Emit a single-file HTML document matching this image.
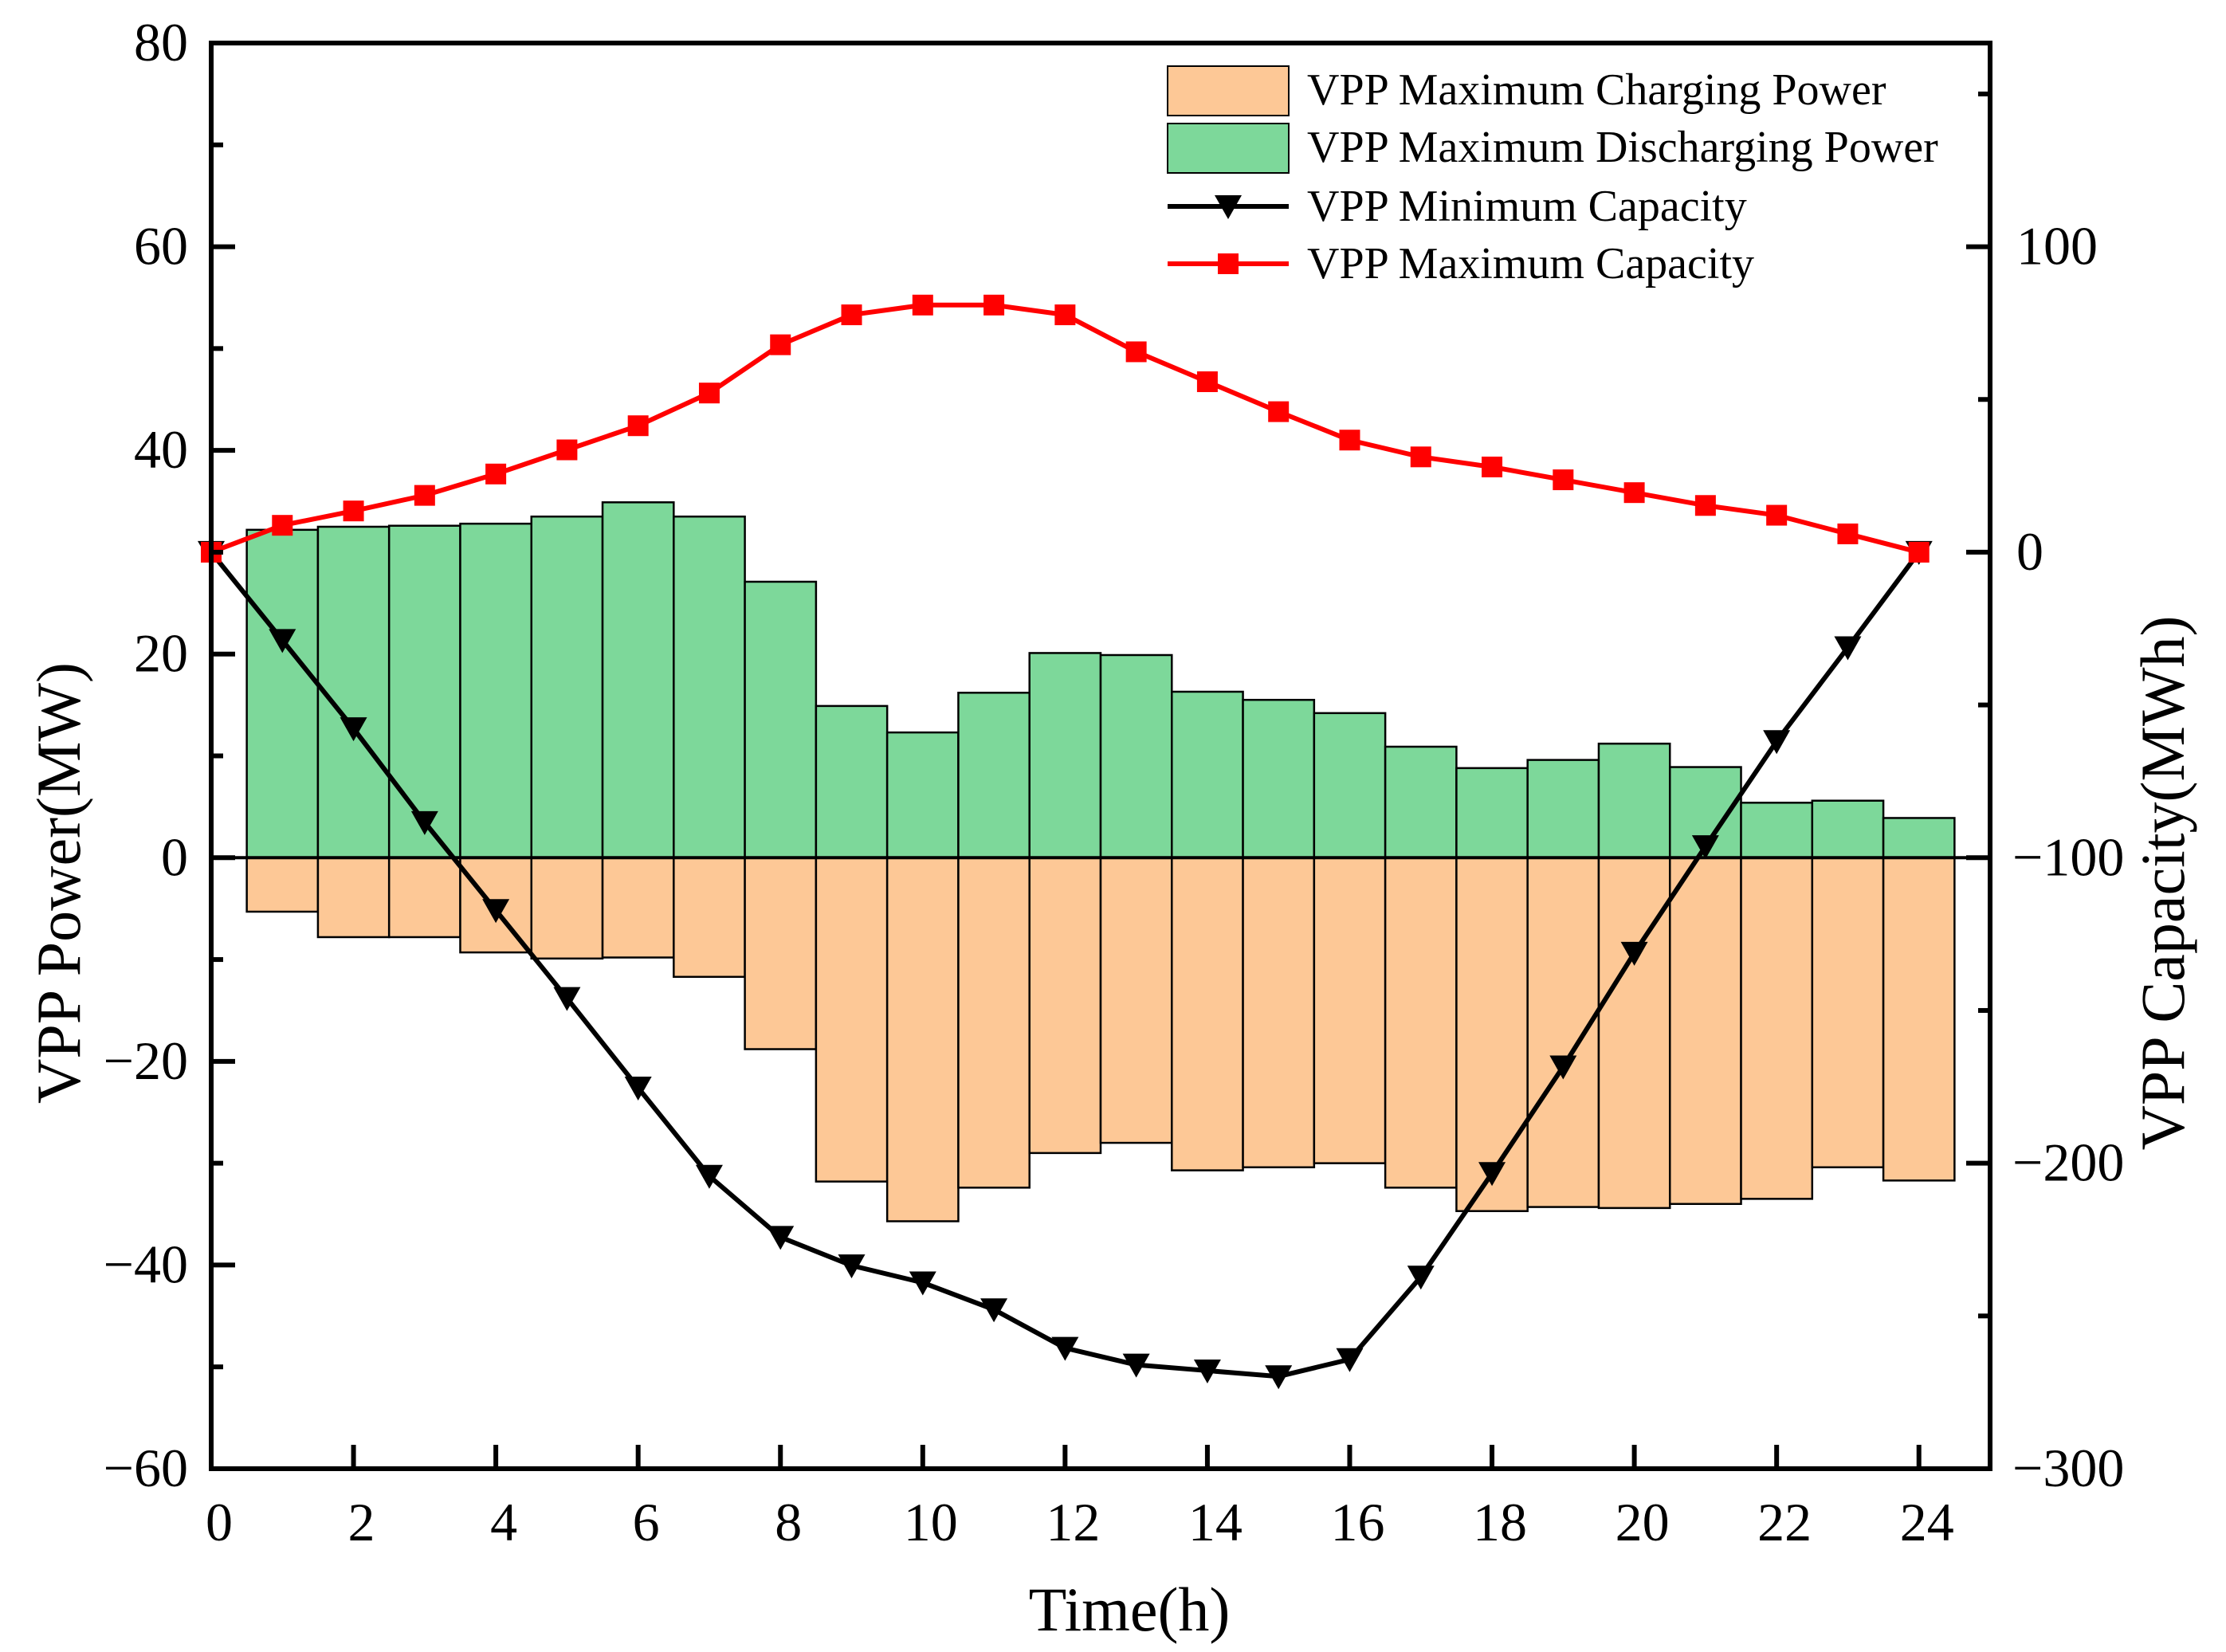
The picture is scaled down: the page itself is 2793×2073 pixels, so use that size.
<!DOCTYPE html>
<html><head><meta charset="utf-8"><style>
html,body{margin:0;padding:0;background:#fff}
svg{display:block}
text{font-family:"Liberation Serif",serif;fill:#000}
</style></head><body>
<svg id="chart" width="2793" height="2073" viewBox="0 0 2793 2073" xmlns="http://www.w3.org/2000/svg">
<g id="bars"></g>
<g id="lines"></g>
<g id="axes"></g>
<g id="legend"></g>
</svg>
<script>
const hours = [1,2,3,4,5,6,7,8,9,10,11,12,13,14,15,16,17,18,19,20,21,22,23,24];
const discharging = [32.2,32.5,32.6,32.8,33.5,34.9,33.5,27.1,14.9,12.3,16.2,20.1,19.9,16.3,15.5,14.2,10.9,8.8,9.6,11.2,8.9,5.4,5.6,3.9];
const charging = [-5.3,-7.8,-7.8,-9.3,-9.9,-9.8,-11.7,-18.8,-31.8,-35.7,-32.4,-29.0,-28.0,-30.7,-30.4,-30.0,-32.4,-34.7,-34.3,-34.4,-34.0,-33.5,-30.4,-31.7];
const capHours = [0,1,2,3,4,5,6,7,8,9,10,11,12,13,14,15,16,17,18,19,20,21,22,23,24];
const maxCap = [0,8.8,13.5,18.6,25.6,33.5,41.4,52.1,67.9,77.7,80.9,80.9,77.7,65.6,55.8,46.0,36.7,31.2,27.9,23.7,19.5,15.3,12.1,6.0,0];
const minCap = [0,-28.8,-57.7,-88.4,-117.2,-146,-175.3,-204.2,-224.2,-233.5,-239.1,-247.9,-260.5,-266,-267.9,-269.8,-264.2,-237.2,-203.3,-168.4,-131.2,-96.3,-61.9,-31.2,0];
const xTicks = [0,2,4,6,8,10,12,14,16,18,20,22,24];
const yTicks = [80,60,40,20,0,-20,-40,-60];
const y2Ticks = [100,0,-100,-200,-300];

const NS="http://www.w3.org/2000/svg";
const L=265,R=2497,T=54,B=1843;
const x=h=>L+(h/25)*(R-L);
const y=v=>T+(80-v)/140*(B-T);
const y2=c=>y(c*0.3+30);
function mk(tag,attrs,parent){const e=document.createElementNS(NS,tag);for(const k in attrs)e.setAttribute(k,attrs[k]);parent.appendChild(e);return e;}
const gB=document.getElementById('bars'),gL=document.getElementById('lines'),gA=document.getElementById('axes'),gG=document.getElementById('legend');

hours.forEach((h,i)=>{
  const x0=x(h-0.5),w=x(h+0.5)-x0;
  let r=mk('rect',{x:x0,y:y(discharging[i]),width:w,height:y(0)-y(discharging[i]),fill:'#7dd89a',stroke:'#000','stroke-width':2.5},gB);
  
  
  let c=mk('rect',{x:x0,y:y(0),width:w,height:y(charging[i])-y(0),fill:'#fdc896',stroke:'#000','stroke-width':2.5},gB);
  
  
});
let zl=mk('line',{x1:L,x2:R,y1:y(0),y2:y(0),stroke:'#000','stroke-width':4},gB);



function tri(cx,cy,p){const s=17;return mk('polygon',{points:`${cx-s},${cy-14} ${cx+s},${cy-14} ${cx},${cy+16}`,fill:'#000'},p);}
function sq(cx,cy,p){return mk('rect',{x:cx-13,y:cy-13,width:26,height:26,fill:'#f00'},p);}

let pMin=mk('polyline',{points:capHours.map((h,i)=>x(h)+','+y2(minCap[i])).join(' '),fill:'none',stroke:'#000','stroke-width':6},gL);


capHours.forEach((h,i)=>{const m=tri(x(h),y2(minCap[i]),gL);
  
  });
let pMax=mk('polyline',{points:capHours.map((h,i)=>x(h)+','+y2(maxCap[i])).join(' '),fill:'none',stroke:'#f00','stroke-width':6},gL);


capHours.forEach((h,i)=>{const m=sq(x(h),y2(maxCap[i]),gL);
  
  });

let fr=mk('rect',{x:L,y:T,width:R-L,height:B-T,fill:'none',stroke:'#000','stroke-width':6},gA);


xTicks.forEach(h=>{
  mk('line',{x1:x(h),x2:x(h),y1:B,y2:B-30,stroke:'#000','stroke-width':6},gA);
  const t=mk('text',{x:x(h)+10,y:1933,'font-size':68,'text-anchor':'middle'},gA);t.textContent=h;
  
  
});
for(let v=-60;v<=80;v+=10){const len=(v%20===0)?30:15;mk('line',{x1:L,x2:L+len,y1:y(v),y2:y(v),stroke:'#000','stroke-width':6},gA);}
yTicks.forEach(v=>{
  const t=mk('text',{x:236,y:y(v)+22,'font-size':68,'text-anchor':'end'},gA);t.textContent=v<0?'\u2212'+(-v):v;
  
  
});
for(let c=-300;c<=150;c+=50){const len=(c%100===0)?30:15;mk('line',{x1:R,x2:R-len,y1:y2(c),y2:y2(c),stroke:'#000','stroke-width':6},gA);}
y2Ticks.forEach(c=>{
  const t=mk('text',{x:c<0?2525:2530,y:y2(c)+22,'font-size':68,'text-anchor':'start'},gA);t.textContent=c<0?'\u2212'+(-c):c;
  
  
});
let xt=mk('text',{x:1417,y:2046,'font-size':78,'text-anchor':'middle'},gA);xt.textContent='Time(h)';


let yt=mk('text',{x:0,y:0,'font-size':78,'text-anchor':'middle',transform:'translate(100,1108) rotate(-90)'},gA);yt.textContent='VPP Power(MW)';


let y2t=mk('text',{x:0,y:0,'font-size':78,'text-anchor':'middle',transform:'translate(2740,1108) rotate(-90)'},gA);y2t.textContent='VPP Capacity(MWh)';



const lx1=1465,lx2=1617,tx=1640;
let e;
e=mk('rect',{x:lx1,y:83,width:152,height:62,fill:'#fdc896',stroke:'#000','stroke-width':2},gG);

e=mk('text',{x:tx,y:131,'font-size':56},gG);e.textContent='VPP Maximum Charging Power';

e=mk('rect',{x:lx1,y:155,width:152,height:62,fill:'#7dd89a',stroke:'#000','stroke-width':2},gG);

e=mk('text',{x:tx,y:203,'font-size':56},gG);e.textContent='VPP Maximum Discharging Power';

e=mk('line',{x1:lx1,x2:lx2,y1:259,y2:259,stroke:'#000','stroke-width':6},gG);

tri(1541,259,gG);
e=mk('text',{x:tx,y:277,'font-size':56},gG);e.textContent='VPP Minimum Capacity';

e=mk('line',{x1:lx1,x2:lx2,y1:331,y2:331,stroke:'#f00','stroke-width':6},gG);

sq(1541,331,gG);
e=mk('text',{x:tx,y:349,'font-size':56},gG);e.textContent='VPP Maximum Capacity';

</script>
</body></html>
